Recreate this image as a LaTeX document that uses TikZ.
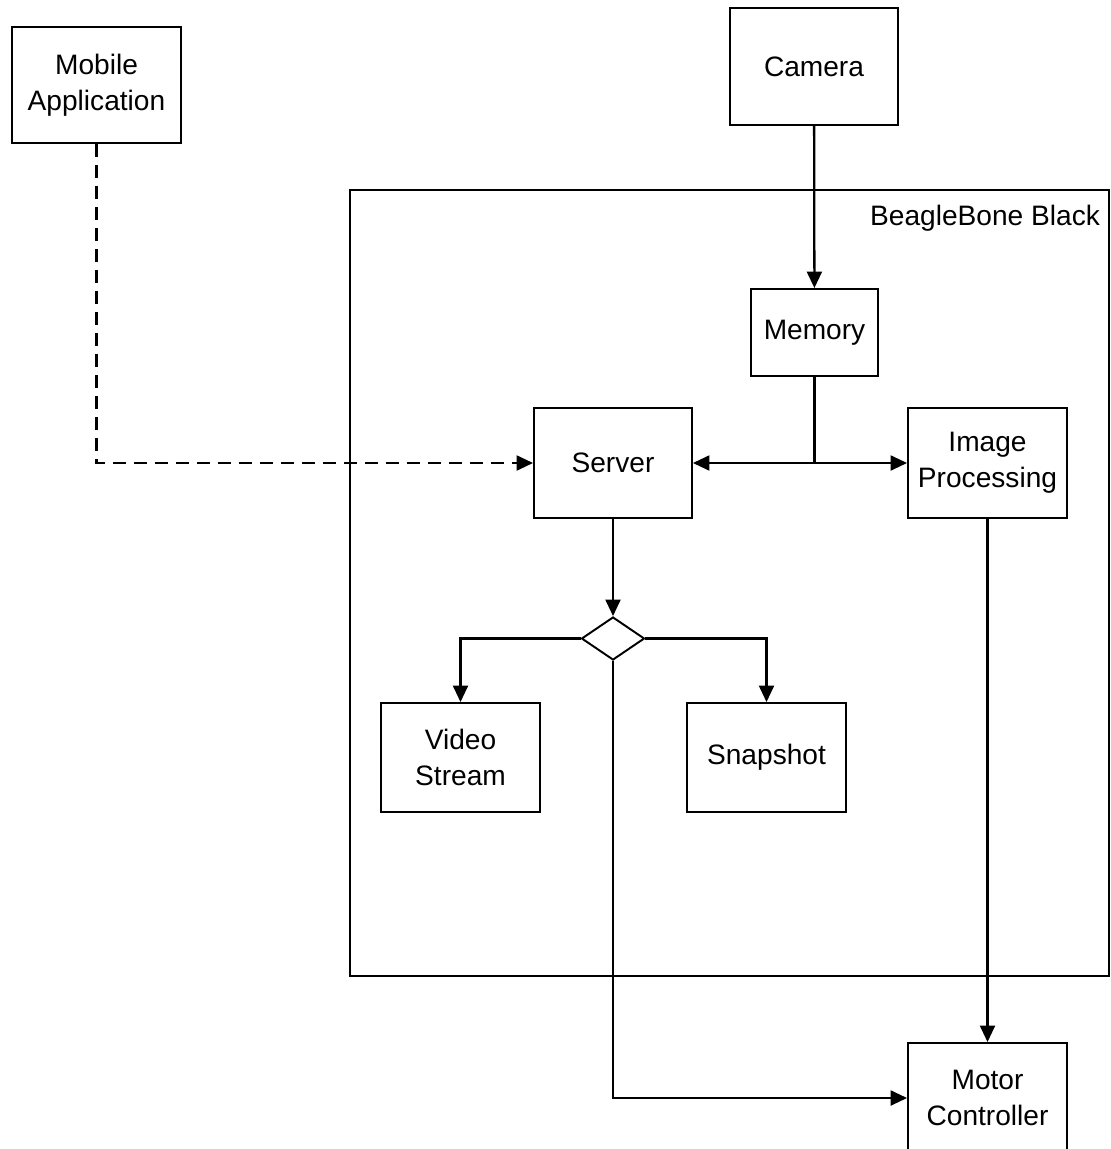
\documentclass[tikz,border=0pt]{standalone}
\usepackage{fontspec}
\setmainfont{Liberation Sans}
\usetikzlibrary{arrows.meta, positioning, shapes.geometric}

\begin{document}
\begin{tikzpicture}[x=0.02cm, y=-0.02cm, line width=1.2pt,
    every node/.style={font=\fontsize{16}{20.3}\selectfont, align=center},
    blk/.style={draw, line width=1.1pt, minimum width=3.18cm, minimum height=2.2cm},
    conn/.style={line width=1.3pt},
    arr/.style={conn, -{Triangle[length=0.33cm, width=0.3cm]}}]
                \useasboundingbox (0,0) rectangle (1110,1149);
                % board frame
                \node[draw, line width=0.9pt, minimum width=15.18cm, minimum height=15.72cm] (bbb) at (729.5,583) {};
                \node[anchor=north east, inner sep=0pt] (bbblbl) at (1101,204) {BeagleBone Black};
                % blocks
                \node[blk, minimum width=3.38cm, minimum height=2.32cm] (app) at (96.5,85) {Mobile\\Application};
                \node[blk, minimum width=3.36cm, minimum height=2.34cm] (cam) at (814,66.5) {Camera};
                \node[blk, minimum width=2.54cm, minimum height=1.74cm] (mem) at (814.5,332.5) {Memory};
                \node[blk, minimum width=3.16cm] (srv) at (613,463) {Server};
                \node[blk, minimum width=3.18cm] (img) at (987.5,463) {Image\\Processing};
                \node[draw, line width=1.1pt, diamond, inner sep=0pt, minimum width=1.26cm, minimum height=0.86cm] (dec) at (613,638.5) {};
                \node[blk, minimum height=2.18cm] (vid) at (460.5,757.5) {Video\\Stream};
                \node[blk, minimum height=2.18cm] (snap) at (766.5,757.5) {Snapshot};
                \node[blk] (mot) at (987.5,1098) {Motor\\Controller};
                % connectors
                \coordinate (split) at (mem.south |- srv.east);
                \draw[arr] (cam) -- (mem);
                \draw[conn] (mem.south) -- (split);
                \draw[arr] (split) -- (srv.east);
                \draw[arr] (split) -- (img.west);
                \draw[arr, dash pattern=on 0.26cm off 0.16cm] (app.south) |- (srv.west);
                \draw[arr] (srv) -- (dec);
                \draw[arr] (dec.west) -| (vid.north);
                \draw[arr] (dec.east) -| (snap.north);
                \draw[arr] (dec.south) |- (mot.west);
                \draw[arr] (img) -- (mot);
            \end{tikzpicture}
\end{document}
